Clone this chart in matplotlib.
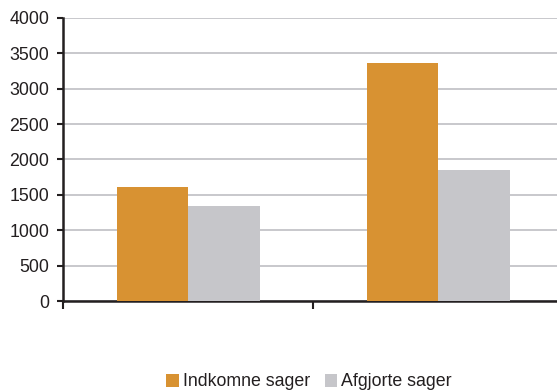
import matplotlib
matplotlib.use('Agg')
import matplotlib.pyplot as plt
import numpy as np

plt.rcParams['font.family'] = ['Liberation Sans', 'DejaVu Sans']

series = ['Indkomne sager', 'Afgjorte sager']
indkomne = [1610, 3365]
afgjorte = [1345, 1855]
colors = ['#D89232', '#C6C6CA']
yticks = [0, 500, 1000, 1500, 2000, 2500, 3000, 3500, 4000]

fig = plt.figure(figsize=(5.57, 3.90), dpi=100)
ax = fig.add_axes([63/557, 89/390, 500/557, 283/390])

x = np.arange(len(indkomne)) + 0.5
w = 0.286
ax.bar(x - w/2, indkomne, w, color=colors[0], label=series[0], zorder=3)
ax.bar(x + w/2, afgjorte, w, color=colors[1], label=series[1], zorder=3)

ax.set_xlim(0, 2)
ax.set_ylim(0, 4000)
ax.set_yticks(yticks)
ax.set_xticks([0, 1, 2])
ax.set_xticklabels([])
ax.yaxis.grid(True, color='#C8C8CC', linewidth=1.4, zorder=0)
ax.set_axisbelow(True)
for s in ['top', 'right']:
    ax.spines[s].set_visible(False)
for s in ['left', 'bottom']:
    ax.spines[s].set_linewidth(1.8)
    ax.spines[s].set_color('#231F20')
ax.tick_params(axis='y', direction='out', length=4, width=1.5, pad=6,
               labelsize=12.8, colors='#231F20')
ax.tick_params(axis='x', direction='out', length=6, width=1.5, colors='#231F20')

fig.legend(loc='center', bbox_to_anchor=(0.555, 1 - 382/390), ncol=2, frameon=False,
           handlelength=0.7, handleheight=0.7, handletextpad=0.25,
           columnspacing=0.8, fontsize=12.8, labelcolor='#231F20',
           borderpad=0)

fig.savefig('out.png', dpi=100)
